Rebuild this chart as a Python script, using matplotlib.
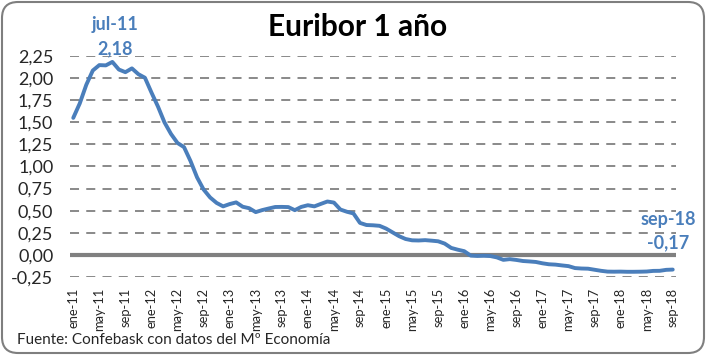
import matplotlib
matplotlib.use("Agg")
import matplotlib.pyplot as plt
from matplotlib.patches import FancyBboxPatch
import numpy as np

# Euribor 12M monthly average, ene-11 .. sep-18
euribor = [
    1.550, 1.714, 1.924, 2.086, 2.147, 2.144, 2.183, 2.097, 2.067, 2.110, 2.044, 2.004,
    1.837, 1.678, 1.499, 1.368, 1.266, 1.219, 1.061, 0.877, 0.740, 0.650, 0.588, 0.549,
    0.575, 0.594, 0.545, 0.528, 0.484, 0.507, 0.525, 0.542, 0.543, 0.541, 0.506, 0.543,
    0.562, 0.549, 0.577, 0.604, 0.592, 0.513, 0.488, 0.469, 0.362, 0.338, 0.335, 0.329,
    0.298, 0.255, 0.212, 0.180, 0.165, 0.163, 0.167, 0.161, 0.154, 0.128, 0.079, 0.059,
    0.042, -0.008, -0.012, -0.010, -0.013, -0.028, -0.056, -0.048, -0.057, -0.069, -0.074, -0.080,
    -0.095, -0.106, -0.110, -0.119, -0.127, -0.149, -0.154, -0.156, -0.168, -0.180, -0.189, -0.190,
    -0.189, -0.191, -0.191, -0.190, -0.188, -0.181, -0.180, -0.169, -0.166,
]
month_names = ["ene", "feb", "mar", "abr", "may", "jun", "jul", "ago", "sep", "oct", "nov", "dic"]
years = list(range(11, 19))
months = [f"{m}-{y}" for y in years for m in month_names][:len(euribor)]
y_ticks = [-0.25, 0.0, 0.25, 0.5, 0.75, 1.0, 1.25, 1.5, 1.75, 2.0, 2.25]

blue = "#4a7ebb"
plt.rcParams["font.family"] = ["Lato", "DejaVu Sans"]


def fmt(v):
    return f"{v:.2f}".replace(".", ",")


fig = plt.figure(figsize=(7.06, 3.55), dpi=100)
W, H = 706, 355
ax = fig.add_axes([70 / W, 1 - 277 / H, 606 / W, 221 / H])

x = np.arange(len(euribor))
for v in y_ticks:
    if v == 0:
        ax.axhline(v, color="#808080", lw=3, zorder=1)
    else:
        ax.axhline(v, color="#808080", lw=1.3, ls=(0, (5, 4)), zorder=1)
ax.plot(x, euribor, color=blue, lw=2.8, zorder=3, solid_capstyle="round")

ax.set_xlim(-0.5, len(euribor) - 0.5)
ax.set_ylim(-0.25, 2.25)
ax.set_yticks(y_ticks)
ax.set_yticklabels([fmt(v) for v in y_ticks], fontsize=13, color="#262626")
ax.set_xticks(x[::4])
ax.set_xticklabels(months[::4], rotation=90, fontsize=9.3, color="#262626")
ax.tick_params(axis="y", length=0, pad=12)
ax.tick_params(axis="x", length=0, pad=7.5)
for s in ax.spines.values():
    s.set_visible(False)

# annotations: max and last value
lab = dict(textcoords="offset points", ha="center", va="center", color=blue,
           fontsize=13, fontweight="bold", annotation_clip=False)
imax = int(np.argmax(euribor))
ax.annotate(months[imax], (imax, euribor[imax]), xytext=(2, 27), **lab)
ax.annotate(fmt(euribor[imax]), (imax, euribor[imax]), xytext=(2, 9.5), **lab)
ilast = len(euribor) - 1
ax.annotate(months[ilast], (ilast, euribor[ilast]), xytext=(-3.5, 36), **lab)
ax.annotate(fmt(euribor[ilast]), (ilast, euribor[ilast]), xytext=(-3, 19), **lab)

fig.text(358 / W, 1 - 27 / H, "Euribor 1 año", ha="center", va="center",
         fontsize=21.5, fontweight="bold", color="black")
fig.text(17 / W, 1 - 340 / H, "Fuente: Confebask con datos del Mº Economía",
         ha="left", va="center", fontsize=11, color="#262626")

border = FancyBboxPatch((0.02, 0.02), 7.02, 3.51, boxstyle="round,pad=0,rounding_size=0.16",
                        transform=fig.dpi_scale_trans, fill=False, ec="#7f7f7f", lw=1.5)
fig.patches.append(border)

plt.savefig("out.png", dpi=100)
plt.close()
